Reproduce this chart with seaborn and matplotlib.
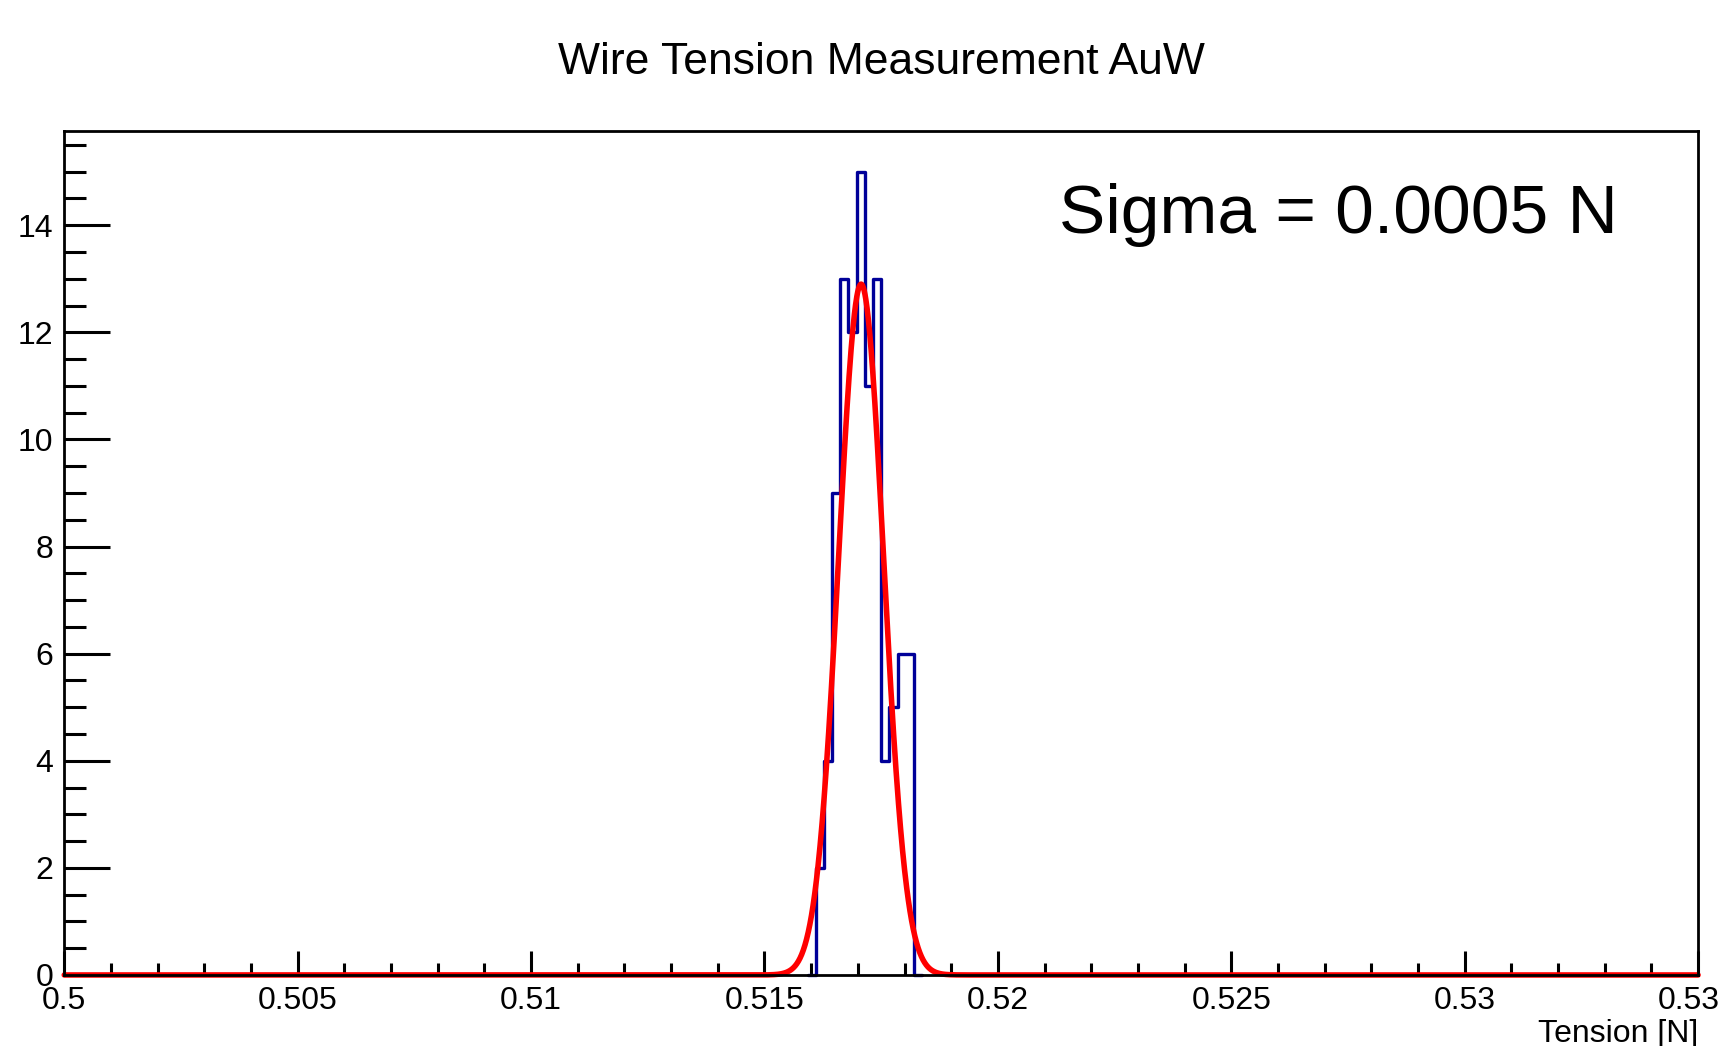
import numpy as np
import pandas as pd
import matplotlib
matplotlib.use("Agg")
import matplotlib.pyplot as plt
import seaborn as sns
from matplotlib.ticker import MultipleLocator, FuncFormatter

# ---- data ----
bin_width = 0.000175
# bin left edges; the outer two are the empty neighbour bins
bin_lefts = [0.515925, 0.516100, 0.516275, 0.516450, 0.516625, 0.516800, 0.516975,
             0.517150, 0.517325, 0.517500, 0.517675, 0.517850, 0.518025, 0.518200]
counts = [0, 2, 4, 9, 13, 12, 15, 11, 13, 4, 5, 6, 6, 0]

# Gaussian fit parameters (as drawn in the reference)
fit_amp = 12.9
fit_mean = 0.51707
fit_sigma = 0.00048

title = "Wire Tension Measurement AuW"
xlabel = "Tension [N]"
annotation = "Sigma = 0.0005 N"
x_range = (0.5, 0.535)
y_range = (0, 15.75)
x_ticks = [0.5, 0.505, 0.51, 0.515, 0.52, 0.525, 0.53, 0.535]
y_ticks = [0, 2, 4, 6, 8, 10, 12, 14]

# ---- build frames ----
edges = list(bin_lefts) + [bin_lefts[-1] + bin_width]
hist_df = pd.DataFrame({"tension": [l + bin_width / 2 for l in bin_lefts],
                        "count": counts})
xs = np.linspace(x_range[0], x_range[1], 4000)
fit_df = pd.DataFrame({"tension": xs,
                       "fit": fit_amp * np.exp(-0.5 * ((xs - fit_mean) / fit_sigma) ** 2)})

sns.set_theme(style="white")
plt.rcParams["font.family"] = ["Liberation Sans", "DejaVu Sans"]
plt.rcParams["text.color"] = "black"
plt.rcParams["xtick.color"] = "black"
plt.rcParams["ytick.color"] = "black"
plt.rcParams["axes.labelcolor"] = "black"

fig = plt.figure(figsize=(17.18, 10.46), dpi=100)
ax = fig.add_axes([0.0374, 0.0679, 0.951, 0.8064])

sns.histplot(data=hist_df, x="tension", weights="count", bins=edges,
             element="step", fill=False, color="#000099", linewidth=2.4, ax=ax)
sns.lineplot(data=fit_df, x="tension", y="fit", color="#ff0000", linewidth=4.0,
             ax=ax)
for ln in ax.get_lines():
    ln.set_clip_on(False)
    ln.set_zorder(2.2)

ax.set_xlim(*x_range)
ax.set_ylim(*y_range)
ax.set_xticks(x_ticks)
ax.set_yticks(y_ticks)
ax.xaxis.set_minor_locator(MultipleLocator(0.001))
ax.yaxis.set_minor_locator(MultipleLocator(0.5))
ax.xaxis.set_major_formatter(FuncFormatter(lambda v, p: ("%.3f" % v).rstrip("0").rstrip(".")))

for side in ["top", "bottom", "left", "right"]:
    ax.spines[side].set_visible(True)
    ax.spines[side].set_color("black")
    ax.spines[side].set_linewidth(2.0)
    ax.spines[side].set_zorder(2.5)

ax.tick_params(axis="both", which="both", direction="in", color="black",
               width=2.2, top=False, right=False, bottom=True, left=True)
ax.tick_params(axis="y", which="major", length=33, pad=8, labelsize=23)
ax.tick_params(axis="y", which="minor", length=16)
ax.tick_params(axis="x", which="major", length=17, pad=8, labelsize=23)
ax.tick_params(axis="x", which="minor", length=8.5)

ax.set_ylabel("")
ax.set_xlabel(xlabel, fontsize=23, loc="right", labelpad=2)

fig.text(0.513, 0.940, title, ha="center", va="center", fontsize=32)
ax.text(0.609, 0.880, annotation, transform=ax.transAxes, ha="left",
        va="baseline", fontsize=50)

fig.savefig("out.png", dpi=100, facecolor="white")
